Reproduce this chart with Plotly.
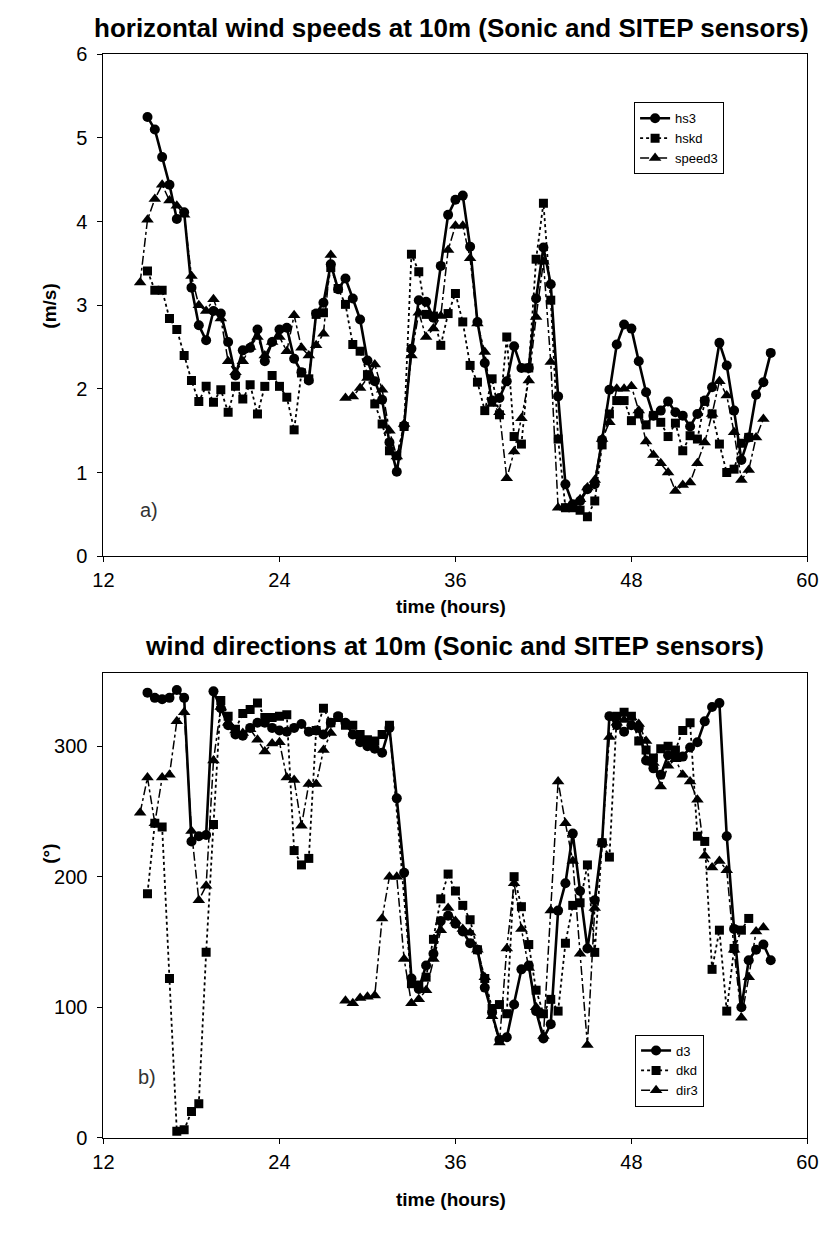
import plotly.graph_objects as go

# ---------------- data ----------------
# top panel: horizontal wind speed (m/s), half-hour samples
hs3_start = 15.0
hs3 = [5.25, 5.10, 4.77, 4.44, 4.03, 4.11, 3.21, 2.76, 2.58, 2.93,
       2.90, 2.56, 2.16, 2.46, 2.49, 2.71, 2.33, 2.56, 2.71, 2.73,
       2.36, 2.20, 2.10, 2.90, 3.03, 3.49, 3.19, 3.32, 3.08, 2.83,
       2.34, 2.09, 1.87, 1.36, 1.01, 1.56, 2.48, 3.06, 3.04, 2.85,
       3.47, 4.08, 4.26, 4.31, 3.70, 2.80, 2.31, 1.86, 1.89, 2.09,
       2.51, 2.25, 2.25, 3.08, 3.69, 3.25, 1.91, 0.86, 0.62, 0.66,
       0.80, 0.86, 1.39, 1.99, 2.53, 2.77, 2.72, 2.33, 1.96, 1.68,
       1.74, 1.85, 1.72, 1.68, 1.55, 1.70, 1.86, 2.02, 2.55, 2.28,
       1.74, 1.15, 1.42, 1.93, 2.08, 2.43]

hskd_start = 15.0
hskd = [3.41, 3.18, 3.18, 2.84, 2.71, 2.40, 2.10, 1.85, 2.03, 1.84,
        1.99, 1.72, 2.03, 1.88, 2.05, 1.70, 2.03, 2.16, 2.03, 1.90,
        1.51, 2.19, 2.12, 2.89, 2.91, 3.45, 3.20, 3.01, 2.53, 2.45,
        2.17, 1.82, 1.58, 1.26, 1.20, 1.55, 3.61, 3.40, 2.89, 2.87,
        2.52, 2.90, 3.14, 2.80, 2.28, 2.08, 1.74, 2.12, 1.69, 2.62,
        1.43, 1.34, 2.25, 3.55, 4.22, 3.06, 1.40, 0.58, 0.58, 0.55,
        0.47, 0.66, 1.33, 1.70, 1.86, 1.86, 1.62, 1.70, 1.57, 1.68,
        1.60, 1.43, 1.59, 1.26, 1.44, 1.40, 1.85, 1.70, 1.34, 1.00,
        1.04, 1.35, 1.42]

speed3_start = 14.5
speed3 = [3.27, 4.02, 4.27, 4.44, 4.25, 4.19, 4.08, 3.35, 3.00, 2.93,
          3.07, 2.84, 2.33, 2.20, 2.33, 2.50, 2.62, 2.40, 2.56, 2.62,
          2.45, 2.88, 2.49, 2.40, 2.52, 2.66, 3.60, None, 1.89, 1.91,
          2.01, 2.13, 2.29, 1.99, 1.50, 1.19, 1.58, 2.40, 2.91, 2.62,
          2.72, 2.87, 3.66, 3.95, 3.95, 3.56, 2.78, 2.44, 1.82, 1.72,
          0.93, 1.25, 1.65, 2.10, 2.86, 3.52, 2.32, 0.58, 0.58, 0.60,
          0.68, 0.82, 0.91, 1.40, 1.60, 2.00, 2.00, 2.03, 1.74, 1.37,
          1.21, 1.11, 1.00, 0.78, 0.85, 0.88, 1.11, 1.36, 1.70, 2.09,
          1.92, 1.48, 0.91, 1.03, 1.42, 1.64]

# bottom panel: wind direction (degrees)
d3_start = 15.0
d3 = [341, 337, 336, 337, 343, 337, 227, 231, 232, 342,
      329, 316, 309, 308, 314, 318, 318, 314, 312, 311,
      314, 317, 311, 312, 309, 318, 323, 318, 309, 303,
      300, 298, 295, 314, 260, 203, 122, 114, 132, 141,
      166, 170, 164, 158, 149, 144, 115, 96, 75, 77,
      102, 129, 132, 97, 76, 87, 174, 195, 233, 189,
      145, 182, 226, 323, 316, 311, 316, 314, 289, 283,
      278, 293, 292, 292, 299, 303, 319, 330, 333, 231,
      160, 100, 136, 144, 148, 136]

dkd_start = 15.0
dkd = [187, 241, 238, 122, 5, 6, 20, 26, 142, 240,
       335, 323, 313, 325, 328, 333, 322, 322, 323, 324,
       220, 209, 214, 312, 329, 318, 322, 316, 316, 309,
       305, 304, 309, 316, None, None, 118, 117, 123, 152,
       183, 202, 189, 178, 167, 144, 122, 99, 102, 95,
       200, 177, 148, 113, 95, 106, 97, 149, 178, 180,
       209, 142, 226, 215, 323, 326, 323, 304, 297, 291,
       298, 300, 297, 312, 318, 231, 227, 129, 159, 97,
       145, 159, 168]

dir3_start = 14.5
dir3 = [249, 276, 241, 276, 278, 319, 326, 235, 182, 193,
        289, 330, 318, 312, 310, 313, 305, 296, 302, 303,
        276, 274, 239, 271, 271, 297, 310, None, 105, 103,
        107, 108, 109, 168, 200, 200, 137, 103, 106, 113,
        137, 159, 176, 166, 160, 157, 144, 123, 93, 73,
        145, 195, 160, 130, 100, 78, 174, 273, 241, 212,
        141, 71, 176, 226, 307, 318, 320, 322, 317, 304,
        287, 269, 285, 290, 278, 273, 259, 216, 207, 212,
        205, 144, 92, 123, 158, 161]

x_ticks = [12, 24, 36, 48, 60]
speed_ticks = [0, 1, 2, 3, 4, 5, 6]
dir_ticks = [0, 100, 200, 300]


def half_hours(start, n):
    return [start + 0.5 * i for i in range(n)]


# ---------------- figure ----------------
W, H = 833, 1243
FONT = "Liberation Sans, Arial, sans-serif"


def px_x(p):
    return p / W


def px_y(p):
    return 1 - p / H


fig = go.Figure()

styles = {
    "solid": dict(dash="solid", width=2.6),
    "dot": dict(dash="dot", width=1.8),
    "dashdot": dict(dash="dashdot", width=1.5),
}


def add(series, start, name, symbol, style, xa, ya, leg, gaps=False, msize=10):
    fig.add_trace(go.Scatter(
        x=half_hours(start, len(series)), y=series, name=name,
        mode="lines+markers", connectgaps=gaps,
        line=dict(color="black", **styles[style]),
        marker=dict(symbol=symbol, size=msize, color="black"),
        xaxis=xa, yaxis=ya, legend=leg,
    ))


add(hs3, hs3_start, "hs3", "circle", "solid", "x", "y", "legend")
add(hskd, hskd_start, "hskd", "square", "dot", "x", "y", "legend", msize=9)
add(speed3, speed3_start, "speed3", "triangle-up", "dashdot", "x", "y", "legend", msize=11)

add(d3, d3_start, "d3", "circle", "solid", "x2", "y2", "legend2")
add(dkd, dkd_start, "dkd", "square", "dot", "x2", "y2", "legend2", gaps=True, msize=9)
add(dir3, dir3_start, "dir3", "triangle-up", "dashdot", "x2", "y2", "legend2", msize=11)

X0, X1 = 95, 818
TOP0, TOP1 = 44, 555
BOT0, BOT1 = 674, 1147

axis_common = dict(showline=True, linecolor="black", linewidth=1, mirror=True,
                   ticks="outside", ticklen=5, tickcolor="black",
                   showgrid=False, zeroline=False,
                   tickfont=dict(family=FONT, size=20, color="black"))
x_extra = dict(ticklabelstandoff=1)
y_extra = dict(ticklabelstandoff=6)

leg_common = dict(xanchor="left", yanchor="top",
                  bordercolor="black", borderwidth=1, bgcolor="white",
                  font=dict(family=FONT, size=13, color="black"),
                  tracegroupgap=0, itemwidth=30)

fig.update_layout(
    width=W, height=H,
    margin=dict(l=0, r=0, t=0, b=0),
    paper_bgcolor="white", plot_bgcolor="white",
    showlegend=True,
    xaxis=dict(domain=[px_x(X0), px_x(X1)], anchor="y", range=[12, 60],
               tickvals=x_ticks, **axis_common, **x_extra),
    yaxis=dict(domain=[px_y(TOP1), px_y(TOP0)], anchor="x", range=[0, 6],
               tickvals=speed_ticks, **axis_common, **y_extra),
    xaxis2=dict(domain=[px_x(X0), px_x(X1)], anchor="y2", range=[12, 60],
                tickvals=x_ticks, **axis_common, **x_extra),
    yaxis2=dict(domain=[px_y(BOT1), px_y(BOT0)], anchor="x2", range=[0, 356],
                tickvals=dir_ticks, **axis_common, **y_extra),
    legend=dict(x=px_x(640), y=px_y(93), **leg_common),
    legend2=dict(x=px_x(641), y=px_y(1042), **leg_common),
)

axis_title_font = dict(family=FONT, size=19, color="black")
panel_font = dict(family=FONT, size=20, color="#333333")
annots = [
    dict(text="<b>horizontal wind speeds at 10m (Sonic and SITEP sensors)</b>",
         x=px_x(452), y=px_y(17), font=dict(family=FONT, size=26, color="black")),
    dict(text="<b>time (hours)</b>", x=px_x(452), y=px_y(606), font=axis_title_font),
    dict(text="<b>(m/s)</b>", x=px_x(40), y=px_y(300), font=axis_title_font, textangle=-90),
    dict(text="a)", x=px_x(142), y=px_y(508), font=panel_font),
    dict(text="<b>wind directions at 10m (Sonic and SITEP sensors)</b>",
         x=px_x(456), y=px_y(646), font=dict(family=FONT, size=26, color="black")),
    dict(text="<b>time (hours)</b>", x=px_x(452), y=px_y(1210), font=axis_title_font),
    dict(text="<b>(°)</b>", x=px_x(40), y=px_y(858), font=axis_title_font, textangle=-90),
    dict(text="b)", x=px_x(140), y=px_y(1085), font=panel_font),
]
for a in annots:
    fig.add_annotation(xref="paper", yref="paper", showarrow=False,
                       xanchor="center", yanchor="middle", **a)

fig.write_html("out.html")
